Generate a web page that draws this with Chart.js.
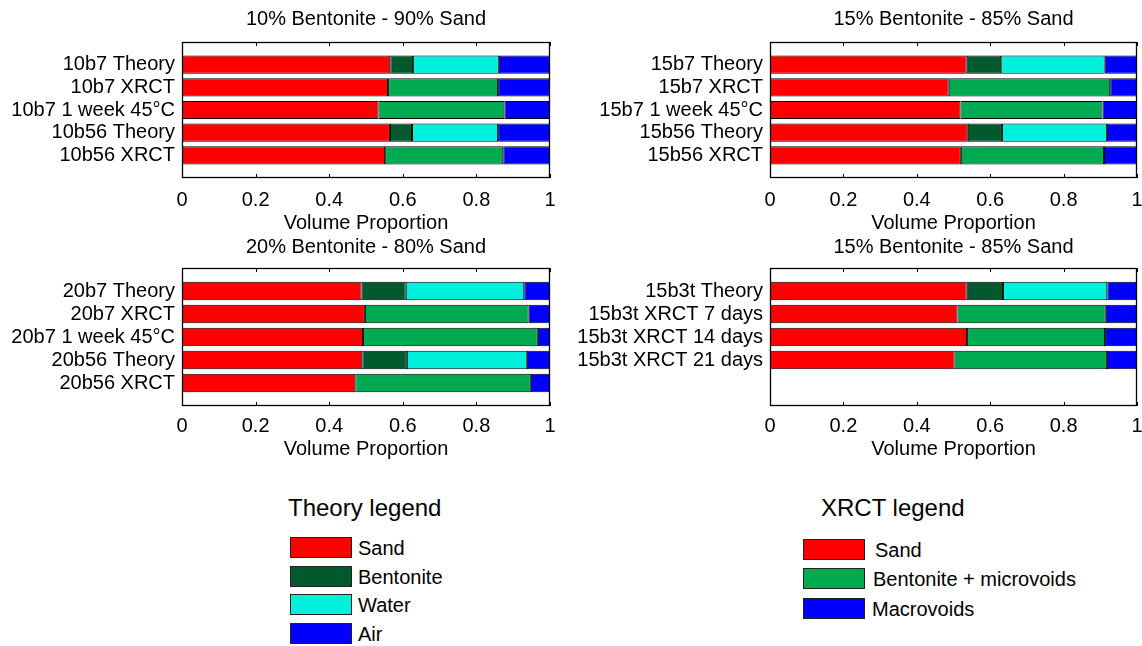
<!DOCTYPE html>
<html>
<head>
<meta charset="utf-8">
<script src="https://cdn.jsdelivr.net/npm/chart.js@4/dist/chart.umd.min.js"></script>
<style>
  body { margin: 0; background: #fff; width: 1142px; height: 646px; position: relative; overflow: hidden;
    font-family: "Liberation Sans", Arial, Helvetica, sans-serif; color: #000; }
  canvas { position: absolute; }
  .lg-title { position: absolute; font-size: 24px; line-height: 24px; white-space: nowrap; }
  .lg-item { position: absolute; display: flex; align-items: center; font-size: 20px; line-height: 20px; white-space: nowrap; }
  .lg-box { width: 62px; height: 21px; box-sizing: border-box; border: 1px solid #222; margin-right: 6px; }
</style>
</head>
<body>
<canvas id="c10" width="571" height="236" style="left:0;top:0"></canvas>
<canvas id="c15" width="590" height="236" style="left:571px;top:0"></canvas>
<canvas id="c20" width="571" height="240" style="left:0;top:230px"></canvas>
<canvas id="c15t" width="590" height="240" style="left:571px;top:230px"></canvas>

<div class="lg-title" style="left:288px;top:496px">Theory legend</div>
<div class="lg-item" style="left:290px;top:537px"><div class="lg-box" style="background:#ff0000"></div>Sand</div>
<div class="lg-item" style="left:290px;top:566px"><div class="lg-box" style="background:#005a2d"></div>Bentonite</div>
<div class="lg-item" style="left:290px;top:594px"><div class="lg-box" style="background:#00f0dc"></div>Water</div>
<div class="lg-item" style="left:290px;top:623px"><div class="lg-box" style="background:#0000ff"></div>Air</div>

<div class="lg-title" style="left:821px;top:496px">XRCT legend</div>
<div class="lg-item" style="left:803px;top:539px"><div class="lg-box" style="background:#ff0000;margin-right:10px"></div>Sand</div>
<div class="lg-item" style="left:803px;top:568px"><div class="lg-box" style="background:#00aa50;margin-right:8px"></div>Bentonite + microvoids</div>
<div class="lg-item" style="left:803px;top:598px"><div class="lg-box" style="background:#0000ff;margin-right:7px"></div>Macrovoids</div>

<script>
// --- data (volume proportions) ---
const labels10 = ['10b7 Theory', '10b7 XRCT', '10b7 1 week 45°C', '10b56 Theory', '10b56 XRCT'];
const sand10 = [0.566, 0.560, 0.534, 0.565, 0.552];
const bentonite10 = [0.062, null, null, 0.060, null];
const micro10 = [null, 0.299, 0.342, null, 0.321];
const water10 = [0.233, null, null, 0.234, null];
const voids10 = [0.139, 0.141, 0.124, 0.141, 0.127];

const labels15 = ['15b7 Theory', '15b7 XRCT', '15b7 1 week 45°C', '15b56 Theory', '15b56 XRCT'];
const sand15 = [0.536, 0.487, 0.519, 0.539, 0.520];
const bentonite15 = [0.094, null, null, 0.093, null];
const micro15 = [null, 0.440, 0.387, null, 0.390];
const water15 = [0.282, null, null, 0.286, null];
const voids15 = [0.088, 0.073, 0.094, 0.082, 0.090];

const labels20 = ['20b7 Theory', '20b7 XRCT', '20b7 1 week 45°C', '20b56 Theory', '20b56 XRCT'];
const sand20 = [0.488, 0.497, 0.492, 0.490, 0.471];
const bentonite20 = [0.120, null, null, 0.121, null];
const micro20 = [null, 0.445, 0.475, null, 0.477];
const water20 = [0.322, null, null, 0.326, null];
const voids20 = [0.070, 0.058, 0.033, 0.063, 0.052];

const labels15t = ['15b3t Theory', '15b3t XRCT 7 days', '15b3t XRCT 14 days', '15b3t XRCT 21 days'];
const sand15t = [0.536, 0.511, 0.537, 0.503];
const bentonite15t = [0.099, null, null, null];
const micro15t = [null, 0.404, 0.376, 0.415];
const water15t = [0.284, null, null, null];
const voids15t = [0.081, 0.085, 0.087, 0.082];

const xTicks = [0, 0.2, 0.4, 0.6, 0.8, 1];

const COLORS = {
  sand: '#ff0000',
  bentonite: '#005a2d',
  micro: '#00aa50',
  water: '#00f0dc',
  voids: '#0000ff',
};

const FONT = '"Liberation Sans", Arial, Helvetica, sans-serif';
Chart.defaults.font.family = FONT;
Chart.defaults.color = '#000';

// one empty slot above, and empty slots below so every panel has 5 rows
function pad(arr, fill) {
  const out = [fill, ...arr];
  while (out.length < 7) out.push(fill);
  return out;
}

// frame box + inward x tick marks, like the original axes
const framePlugin = {
  id: 'frame',
  afterDatasetsDraw(chart) {
    const { ctx, chartArea: a, scales: { x } } = chart;
    ctx.save();
    ctx.strokeStyle = '#000';
    ctx.lineWidth = 1;
    ctx.beginPath();
    x.ticks.forEach((t) => {
      const px = Math.round(x.getPixelForValue(t.value)) + 0.5;
      ctx.moveTo(px, a.top);
      ctx.lineTo(px, a.top + 4);
      ctx.moveTo(px, a.bottom);
      ctx.lineTo(px, a.bottom - 4);
    });
    ctx.stroke();
    ctx.lineWidth = 1.3;
    ctx.strokeRect(Math.round(a.left) + 0.5, Math.round(a.top) + 0.5,
      Math.round(a.width) - 1, Math.round(a.height) - 1);
    ctx.restore();
  },
};

function makeChart(id, title, labels, series, geo) {
  const ds = (label, data, key) => ({
    label,
    data: pad(data, null),
    xAxisID: 'x',
    yAxisID: 'y',
    backgroundColor: COLORS[key],
    borderColor: '#000',
    borderWidth: 1,
    borderSkipped: false,
  });

  return new Chart(document.getElementById(id), {
    type: 'bar',
    data: {
      labels: pad(labels, ''),
      datasets: [
        ds('Sand', series[0], 'sand'),
        ds('Bentonite', series[1], 'bentonite'),
        ds('Bentonite + microvoids', series[2], 'micro'),
        ds('Water', series[3], 'water'),
        ds('Air / Macrovoids', series[4], 'voids'),
      ],
    },
    options: {
      indexAxis: 'y',
      responsive: false,
      animation: false,
      events: [],
      layout: { padding: { left: 0, right: geo.right, top: 0, bottom: 0 } },
      datasets: {
        bar: { categoryPercentage: 1, barPercentage: 0.8 },
      },
      plugins: {
        legend: { display: false },
        tooltip: { enabled: false },
        title: { display: false },
      },
      scales: {
        x: {
          stacked: true,
          min: 0,
          max: 1,
          afterBuildTicks: (s) => { s.ticks = xTicks.map((v) => ({ value: v })); },
          ticks: {
            padding: geo.tickPad,
            font: { size: 20 },
            maxRotation: 0,
            callback: (v) => String(Math.round(v * 10) / 10),
          },
          grid: { display: false, drawTicks: false },
          border: { display: false },
          title: {
            display: true,
            text: 'Volume Proportion',
            font: { size: 20 },
            padding: { top: 0, bottom: geo.xTitleBottom },
          },
          afterFit: (s) => { s.height = geo.xHeight; },
        },
        // top axis only carries the panel title, centred over the plot box
        top: {
          type: 'linear',
          axis: 'x',
          position: 'top',
          min: 0,
          max: 1,
          ticks: { display: false },
          grid: { display: false, drawTicks: false },
          border: { display: false },
          title: {
            display: true,
            text: title,
            font: { size: 20 },
            padding: { top: geo.titleTop, bottom: 0 },
          },
          afterFit: (s) => { s.height = geo.topHeight; },
        },
        y: {
          stacked: true,
          offset: false,
          ticks: { padding: 7, font: { size: 20 }, autoSkip: false },
          grid: { display: false, drawTicks: false },
          border: { display: false },
          afterFit: (s) => { s.width = geo.yWidth; },
        },
      },
    },
    plugins: [framePlugin],
  });
}

const topGeo = { yWidth: 182, right: 21, titleTop: 7, topHeight: 42, xHeight: 58, tickPad: 10, xTitleBottom: 1 };
const botGeo = { yWidth: 182, right: 21, titleTop: 5, topHeight: 38, xHeight: 64, tickPad: 8, xTitleBottom: 9 };
// right column: canvas is 590 wide, plot box spans 769.7..1137.3 on the page
const rightCol = { yWidth: 199, right: 24 };

makeChart('c10', '10% Bentonite - 90% Sand', labels10,
  [sand10, bentonite10, micro10, water10, voids10], topGeo);
makeChart('c15', '15% Bentonite - 85% Sand', labels15,
  [sand15, bentonite15, micro15, water15, voids15], { ...topGeo, ...rightCol });
makeChart('c20', '20% Bentonite - 80% Sand', labels20,
  [sand20, bentonite20, micro20, water20, voids20], botGeo);
makeChart('c15t', '15% Bentonite - 85% Sand', labels15t,
  [sand15t, bentonite15t, micro15t, water15t, voids15t], { ...botGeo, ...rightCol });
</script>
</body>
</html>
